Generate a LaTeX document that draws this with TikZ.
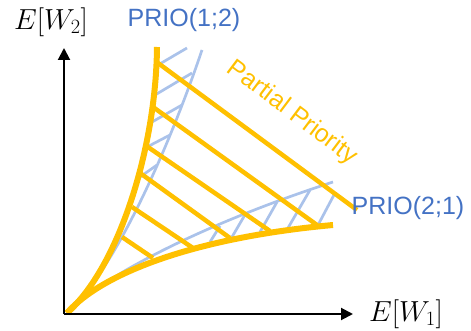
\RequirePackage{fix-cm}
\documentclass[tikz,border=0pt]{standalone}
\usepackage{fontspec}
\setmainfont{Liberation Sans}
\usepackage{amsmath}
\usetikzlibrary{arrows.meta,positioning,calc}
\definecolor{prioblue}{RGB}{68,114,196}
\definecolor{hatchblue}{RGB}{170,194,234}
\definecolor{partgold}{RGB}{255,192,0}

\begin{document}
\begin{tikzpicture}[
    x=1pt, y=-1pt,
    axis/.style    = {line width=2pt, -{Triangle[length=12pt,width=12pt]}},
    bound/.style   = {draw=partgold, line width=6pt},
    parthatch/.style = {draw=partgold, line width=4.5pt},
    prio/.style    = {draw=hatchblue, line width=2.7pt},
    big/.style     = {font=\fontsize{25}{29}\selectfont, inner sep=0pt},
    mathlbl/.style = {font=\fontsize{29}{33}\selectfont, inner sep=0pt},
    prioname/.style= {big, text=prioblue}
  ]
    \useasboundingbox (0,0) rectangle (471,331);

    \coordinate (o)    at (64,314);
    \coordinate (ytip) at (64,48);
    \coordinate (xtip) at (353,314);
    \coordinate (start) at (67,313);

    % PRIO(1;2) and PRIO(2;1) boundaries
    \draw[prio] (start) .. controls (120,265) and (175,130) .. (202,50);
    \draw[prio] (start) .. controls (100,278) and (200,225) .. (333,182);
    \foreach \xa/\ya/\xb/\yb in {158/65/187/48, 155/95/192/73, 152/122/182/105,
                                 147/147/170/135, 140/177/157/165}
      \draw[prio] (\xa,\ya) -- (\xb,\yb);
    \foreach \xa/\ya/\xb/\yb in {210/242/220/226, 232/237/246/213, 260/232/277/202,
                                 288/228/310/190, 317/227/335/193}
      \draw[prio] (\xa,\ya) -- (\xb,\yb);

    % partial priority region
    \foreach \xa/\ya/\xb/\yb in {158/63/357/210, 153/107/317/225, 145/145/270/231,
                                 140/173/230/238, 132/207/193/248, 122/237/153/258}
      \draw[parthatch] (\xa,\ya) -- (\xb,\yb);
    \draw[bound] (start) .. controls (118,268) and (156,150) .. (157,47);
    \draw[bound] (start) .. controls (100,275) and (190,238) .. (333,225);

    % axes
    \draw[axis] (o) -- (ytip);
    \draw[axis] (o) -- (xtip);

    \node[mathlbl] (ew2) at (51,22)  {$E[W_2]$};
    \node[mathlbl] (ew1) at (406,314) {$E[W_1]$};
    \node[prioname] (p12) at (184,20)  {PRIO(1;2)};
    \node[prioname] (p21) at (408,208) {PRIO(2;1)};
    \node[big, text=partgold, rotate=-37] (part) at (292,113) {Partial Priority};
  \end{tikzpicture}
\end{document}
